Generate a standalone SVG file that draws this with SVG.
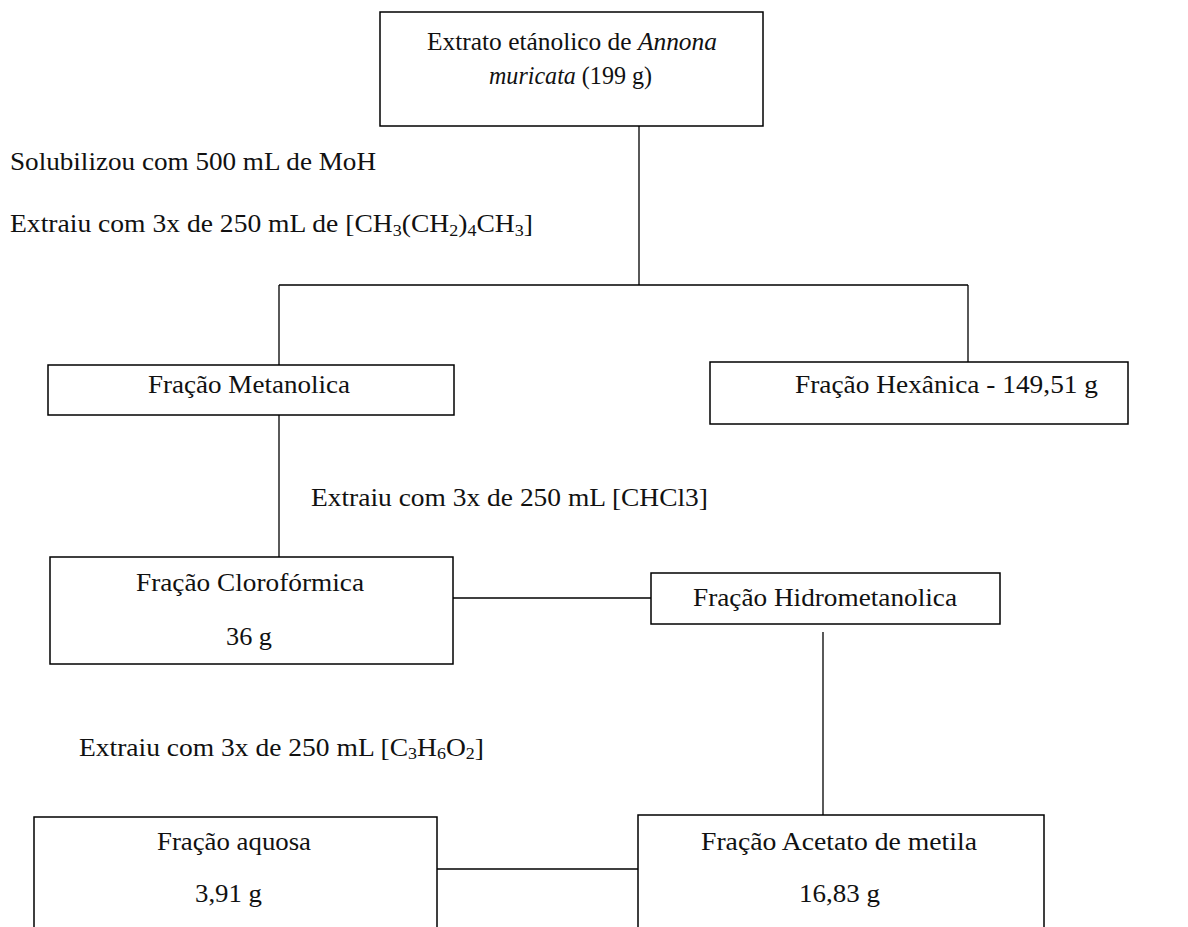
<svg xmlns="http://www.w3.org/2000/svg" width="1188" height="927" viewBox="0 0 1188 927">
<style>
.box{fill:#fff;stroke:#000;stroke-width:1.5}
.ln{stroke:#000;stroke-width:1.3;fill:none}
text{font-family:"Liberation Serif","Times New Roman",serif;font-size:26px;fill:#111}
.sub{font-size:17px}
</style>
<rect width="1188" height="927" fill="#fff"/>
<g id="connectors">
<path class="ln" d="M639 126V285M279 285H968M279 285V365M968 285V362"/>
<path class="ln" d="M279 415V557"/>
<path class="ln" d="M453 598H651"/>
<path class="ln" d="M823 632V815"/>
<path class="ln" d="M437 869H638"/>
</g>
<g id="n-extrato">
<rect class="box" x="380" y="12" width="383" height="114"/>
<text x="427" y="50" textLength="290" lengthAdjust="spacingAndGlyphs">Extrato etánolico de <tspan font-style="italic">Annona</tspan></text>
<text x="489" y="84" textLength="163" lengthAdjust="spacingAndGlyphs"><tspan font-style="italic">muricata</tspan> (199 g)</text>
</g>
<g id="labels">
<text x="10" y="170" textLength="366" lengthAdjust="spacingAndGlyphs">Solubilizou com 500 mL de MoH</text>
<text x="10" y="232" textLength="523" lengthAdjust="spacingAndGlyphs">Extraiu com 3x de 250 mL de [CH<tspan class="sub" dy="4">3</tspan><tspan dy="-4">(CH</tspan><tspan class="sub" dy="4">2</tspan><tspan dy="-4">)</tspan><tspan class="sub" dy="4">4</tspan><tspan dy="-4">CH</tspan><tspan class="sub" dy="4">3</tspan><tspan dy="-4">]</tspan></text>
<text x="311" y="506" textLength="397" lengthAdjust="spacingAndGlyphs">Extraiu com 3x de 250 mL  [CHCl3]</text>
<text x="79" y="756" textLength="405" lengthAdjust="spacingAndGlyphs">Extraiu com 3x de 250 mL  [C<tspan class="sub" dy="3">3</tspan><tspan dy="-3">H</tspan><tspan class="sub" dy="3">6</tspan><tspan dy="-3">O</tspan><tspan class="sub" dy="3">2</tspan><tspan dy="-3">]</tspan></text>
</g>
<g id="n-metanolica">
<rect class="box" x="48" y="365" width="406" height="50"/>
<text x="148" y="393" textLength="202" lengthAdjust="spacingAndGlyphs">Fração Metanolica</text>
</g>
<g id="n-hexanica">
<rect class="box" x="710" y="362" width="418" height="62"/>
<text x="795" y="393" textLength="303" lengthAdjust="spacingAndGlyphs">Fração Hexânica - 149,51 g</text>
</g>
<g id="n-cloroformica">
<rect class="box" x="50" y="557" width="403" height="107"/>
<text x="136" y="591" textLength="228" lengthAdjust="spacingAndGlyphs">Fração Clorofórmica</text>
<text x="226" y="645" textLength="46" lengthAdjust="spacingAndGlyphs">36 g</text>
</g>
<g id="n-hidrometanolica">
<rect class="box" x="651" y="573" width="349" height="51"/>
<text x="693" y="606" textLength="264" lengthAdjust="spacingAndGlyphs">Fração Hidrometanolica</text>
</g>
<g id="n-aquosa">
<rect class="box" x="34" y="817" width="403" height="120"/>
<text x="157" y="850" textLength="154" lengthAdjust="spacingAndGlyphs">Fração aquosa</text>
<text x="195" y="902" textLength="67" lengthAdjust="spacingAndGlyphs">3,91 g</text>
</g>
<g id="n-acetato">
<rect class="box" x="638" y="815" width="406" height="122"/>
<text x="701" y="850" textLength="276" lengthAdjust="spacingAndGlyphs">Fração Acetato de metila</text>
<text x="799" y="902" textLength="81" lengthAdjust="spacingAndGlyphs">16,83 g</text>
</g>
</svg>
